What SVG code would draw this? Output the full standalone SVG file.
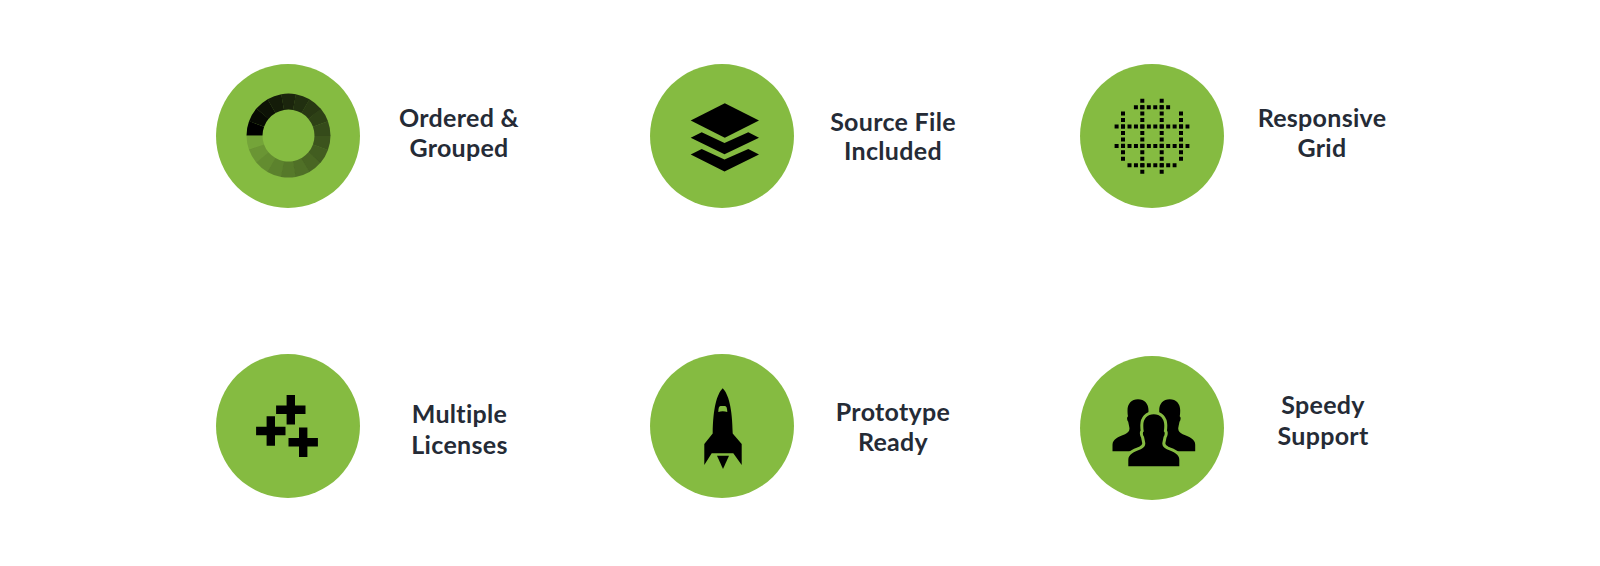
<svg xmlns="http://www.w3.org/2000/svg" width="1600" height="566" viewBox="0 0 1600 566">
<style>
.disc{fill:#85bb41}
.ink{fill:#000}
.seg{fill:none;stroke:#000;stroke-width:16;stroke-dasharray:1.01 16.99}
.dots{fill:none;stroke:#000;stroke-width:4;stroke-dasharray:4 2.45}
.lbl{font-family:"Lato","Liberation Sans",sans-serif;font-weight:700;font-size:25px;fill:#252b36;text-anchor:middle;letter-spacing:.3px}
</style>
<defs>
<circle id="seg" cx="0" cy="0" r="34" pathLength="18" class="seg"/>
<path id="plus" class="ink" d="M-4.2-14.7h8.4v10.5h10.5v8.4H4.2v10.5h-8.4V4.2H-14.7v-8.4H-4.2z"/>
<path id="person" d="M0 0C6.5 0 10.5 4.5 10.5 11C10.5 14 10.3 16 10 17C11.5 18 11 21 9.8 22.5C9.3 25 8.8 27 8.5 29C8.5 32 10 33.5 13 35C20 37.5 25.5 40 25.5 45.5V52H-25.5V45.5C-25.5 40-20 37.5-13 35C-10 33.5-8.5 32-8.5 29C-8.8 27-9.3 25-9.8 22.5C-11 21-11.5 18-10 17C-10.3 16-10.5 14-10.5 11C-10.5 4.5-6.5 0 0 0Z"/>
</defs>

<g id="node-ordered">
<circle class="disc" cx="288" cy="136" r="72"/>
<g transform="translate(288.5 135.6)">
<use href="#seg" transform="rotate(180)" opacity="1"/>
<use href="#seg" transform="rotate(200)" opacity=".95"/>
<use href="#seg" transform="rotate(220)" opacity=".9"/>
<use href="#seg" transform="rotate(240)" opacity=".85"/>
<use href="#seg" transform="rotate(260)" opacity=".8"/>
<use href="#seg" transform="rotate(280)" opacity=".75"/>
<use href="#seg" transform="rotate(300)" opacity=".7"/>
<use href="#seg" transform="rotate(320)" opacity=".65"/>
<use href="#seg" transform="rotate(340)" opacity=".6"/>
<use href="#seg" transform="rotate(0)" opacity=".55"/>
<use href="#seg" transform="rotate(20)" opacity=".5"/>
<use href="#seg" transform="rotate(40)" opacity=".45"/>
<use href="#seg" transform="rotate(60)" opacity=".4"/>
<use href="#seg" transform="rotate(80)" opacity=".35"/>
<use href="#seg" transform="rotate(100)" opacity=".3"/>
<use href="#seg" transform="rotate(120)" opacity=".25"/>
<use href="#seg" transform="rotate(140)" opacity=".2"/>
<use href="#seg" transform="rotate(160)" opacity=".12"/>
</g>
<text class="lbl" x="459" y="127">Ordered &amp;</text>
<text class="lbl" x="459" y="156.5">Grouped</text>
</g>

<g id="node-source">
<circle class="disc" cx="722" cy="136" r="72"/>
<path class="ink" d="M724.8 103.3L759 120.5L724.8 137.7L690.7 120.5Z"/>
<path class="ink" d="M690.7 137.7L701.7 132.3L724.5 142.9L748.3 132.3L759 137.7L724.5 154.3Z"/>
<path class="ink" d="M690.7 154.4L701.7 149L724.5 159.6L748.3 149L759 154.4L724.5 171.5Z"/>
<text class="lbl" x="893" y="130.5">Source File</text>
<text class="lbl" x="893" y="160">Included</text>
</g>

<g id="node-grid">
<circle class="disc" cx="1152" cy="136" r="72"/>
<path class="dots" d="M1114.6 126.5H1189.4M1114.6 145.9H1189.4M1133.9 107.2H1170.1M1127.5 165.2H1176.5"/>
<path class="dots" d="M1142.3 98.7V173.7M1161.7 98.7V173.7M1123 111.6V160.8M1181 111.6V160.8"/>
<text class="lbl" x="1322" y="127">Responsive</text>
<text class="lbl" x="1322" y="156.5">Grid</text>
</g>

<g id="node-licenses">
<circle class="disc" cx="288" cy="426" r="72"/>
<use href="#plus" x="290.8" y="409.8"/>
<use href="#plus" x="270.8" y="431"/>
<use href="#plus" x="303.2" y="442.2"/>
<text class="lbl" x="459.5" y="423.3">Multiple</text>
<text class="lbl" x="459.5" y="454">Licenses</text>
</g>

<g id="node-prototype">
<circle class="disc" cx="722" cy="426" r="72"/>
<path class="ink" d="M722.7 388.3C717 394 713 408 712.7 433.5L704.3 444V465L711.7 453.3H733.3L741.7 465V444L732.7 433.5C732.4 408 728.4 394 722.7 388.3Z"/>
<path class="ink" d="M717 455.7H729L723 469Z"/>
<path class="disc" d="M718.3 412C718.4 408 719 406 720.5 406H725C726.5 406 727.2 408 727.3 412C724.5 411 721 411 718.3 412Z"/>
<text class="lbl" x="893" y="421.2">Prototype</text>
<text class="lbl" x="893" y="451.2">Ready</text>
</g>

<g id="node-support">
<circle class="disc" cx="1152" cy="428" r="72"/>
<use href="#person" x="1138" y="399.3"/>
<use href="#person" x="1169.7" y="399.3"/>
<use href="#person" x="1153.8" y="414.3" stroke="#85bb41" stroke-width="6" paint-order="stroke"/>
<text class="lbl" x="1323" y="414.3">Speedy</text>
<text class="lbl" x="1323" y="445">Support</text>
</g>
</svg>
